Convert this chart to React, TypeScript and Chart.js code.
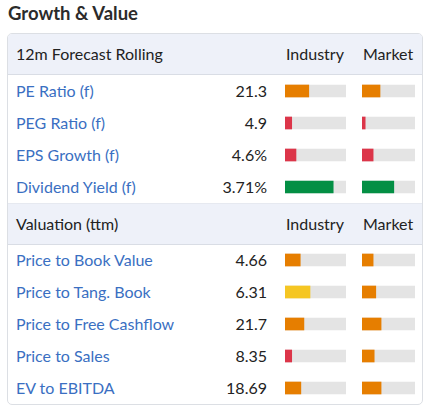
import React, { useEffect, useRef } from "react";
import { Chart, registerables } from "chart.js";

Chart.register(...registerables);

const sectionTitles = ["12m Forecast Rolling", "Valuation (ttm)"];
const columnTitles = ["Industry", "Market"];

const forecastLabels = ["PE Ratio (f)", "PEG Ratio (f)", "EPS Growth (f)", "Dividend Yield (f)"];
const forecastValues = ["21.3", "4.9", "4.6%", "3.71%"];
const forecastIndustry = [39, 11, 18, 79];
const forecastMarket = [34, 6, 21, 60];
const forecastIndustryColors = ["orange", "red", "red", "green"];
const forecastMarketColors = ["orange", "red", "red", "green"];

const valuationLabels = ["Price to Book Value", "Price to Tang. Book", "Price to Free Cashflow", "Price to Sales", "EV to EBITDA"];
const valuationValues = ["4.66", "6.31", "21.7", "8.35", "18.69"];
const valuationIndustry = [25, 41, 31, 11, 26];
const valuationMarket = [21, 26, 36, 23, 36];
const valuationIndustryColors = ["orange", "yellow", "orange", "red", "orange"];
const valuationMarketColors = ["orange", "orange", "orange", "orange", "orange"];

const palette: Record<string, string> = {
  orange: "#e67e00",
  red: "#dc3549",
  green: "#038f44",
  yellow: "#f5c623",
};
const trackColor = "#e4e4e4";
const ROW_H = 32;
const HEAD_H = 41;

function BarColumn(props: { labels: string[]; values: number[]; colors: string[]; width: number }) {
  const ref = useRef<HTMLCanvasElement | null>(null);
  const { labels, values, colors, width } = props;
  const height = labels.length * ROW_H;
  useEffect(() => {
    if (!ref.current) return;
    const chart = new Chart(ref.current, {
      type: "bar",
      data: {
        labels,
        datasets: [
          {
            label: "value",
            data: values,
            backgroundColor: colors.map((c) => palette[c]),
            barThickness: 12,
            grouped: false,
            order: 0,
          },
          {
            label: "track",
            data: labels.map(() => 100),
            backgroundColor: trackColor,
            barThickness: 12,
            grouped: false,
            order: 1,
          },
        ],
      },
      options: {
        indexAxis: "y",
        responsive: false,
        animation: false,
        devicePixelRatio: 1,
        layout: { padding: 0 },
        plugins: { legend: { display: false }, tooltip: { enabled: false } },
        scales: {
          x: { display: false, min: 0, max: 100 },
          y: { display: false },
        },
      },
    });
    return () => chart.destroy();
  }, []);
  return <canvas ref={ref} width={width} height={height} style={{ display: "block", width, height }} />;
}

function Section(props: {
  title: string;
  labels: string[];
  values: string[];
  industry: number[];
  market: number[];
  industryColors: string[];
  marketColors: string[];
  first: boolean;
}) {
  const { title, labels, values, industry, market, industryColors, marketColors, first } = props;
  const rowsH = labels.length * ROW_H;
  return (
    <div style={{ position: "relative", height: HEAD_H + rowsH }}>
      <div
        style={{
          position: "absolute",
          left: 0,
          top: 0,
          width: "100%",
          height: HEAD_H - 1,
          background: "#eef1f9",
          borderBottom: "1px solid #d9dde5",
          borderTop: first ? "none" : "1px solid #e6e9f0",
          boxSizing: "content-box",
        }}
      >
        <div style={{ position: "absolute", left: 8, top: 0, height: HEAD_H - 1, lineHeight: HEAD_H - 1 + "px", color: "#222" }}>{title}</div>
        <div style={{ position: "absolute", left: 278, top: 0, lineHeight: HEAD_H - 1 + "px", color: "#222" }}>{columnTitles[0]}</div>
        <div style={{ position: "absolute", left: 355, top: 0, lineHeight: HEAD_H - 1 + "px", color: "#222" }}>{columnTitles[1]}</div>
      </div>
      {labels.map((l, i) => (
        <React.Fragment key={l}>
          <div style={{ position: "absolute", left: 8, top: HEAD_H + i * ROW_H, lineHeight: ROW_H + "px", color: "#3a6fc2" }}>{l}</div>
          <div style={{ position: "absolute", right: 416 - 261, top: HEAD_H + i * ROW_H, lineHeight: ROW_H + "px", color: "#222", textAlign: "right" }}>{values[i]}</div>
        </React.Fragment>
      ))}
      <div style={{ position: "absolute", left: 277, top: HEAD_H }}>
        <BarColumn labels={labels} values={industry} colors={industryColors} width={61} />
      </div>
      <div style={{ position: "absolute", left: 354, top: HEAD_H }}>
        <BarColumn labels={labels} values={market} colors={marketColors} width={53} />
      </div>
    </div>
  );
}

export default function App() {
  useEffect(() => {
    document.body.style.margin = "0";
  }, []);
  return (
    <div style={{ position: "relative", width: 430, height: 411, background: "#fff", fontFamily: "Lato, sans-serif", fontSize: 16 }}>
      <div style={{ position: "absolute", left: 8, top: 2, fontSize: 18.5, fontWeight: 700, color: "#2b2b2b", lineHeight: "22px" }}>Growth &amp; Value</div>
      <div
        style={{
          position: "absolute",
          left: 7,
          top: 33,
          width: 416,
          height: 372,
          boxSizing: "border-box",
          border: "1px solid #dcdfe4",
          borderRadius: 5,
          overflow: "hidden",
        }}
      >
        <Section
          title={sectionTitles[0]}
          labels={forecastLabels}
          values={forecastValues}
          industry={forecastIndustry}
          market={forecastMarket}
          industryColors={forecastIndustryColors}
          marketColors={forecastMarketColors}
          first={true}
        />
        <Section
          title={sectionTitles[1]}
          labels={valuationLabels}
          values={valuationValues}
          industry={valuationIndustry}
          market={valuationMarket}
          industryColors={valuationIndustryColors}
          marketColors={valuationMarketColors}
          first={false}
        />
      </div>
    </div>
  );
}
